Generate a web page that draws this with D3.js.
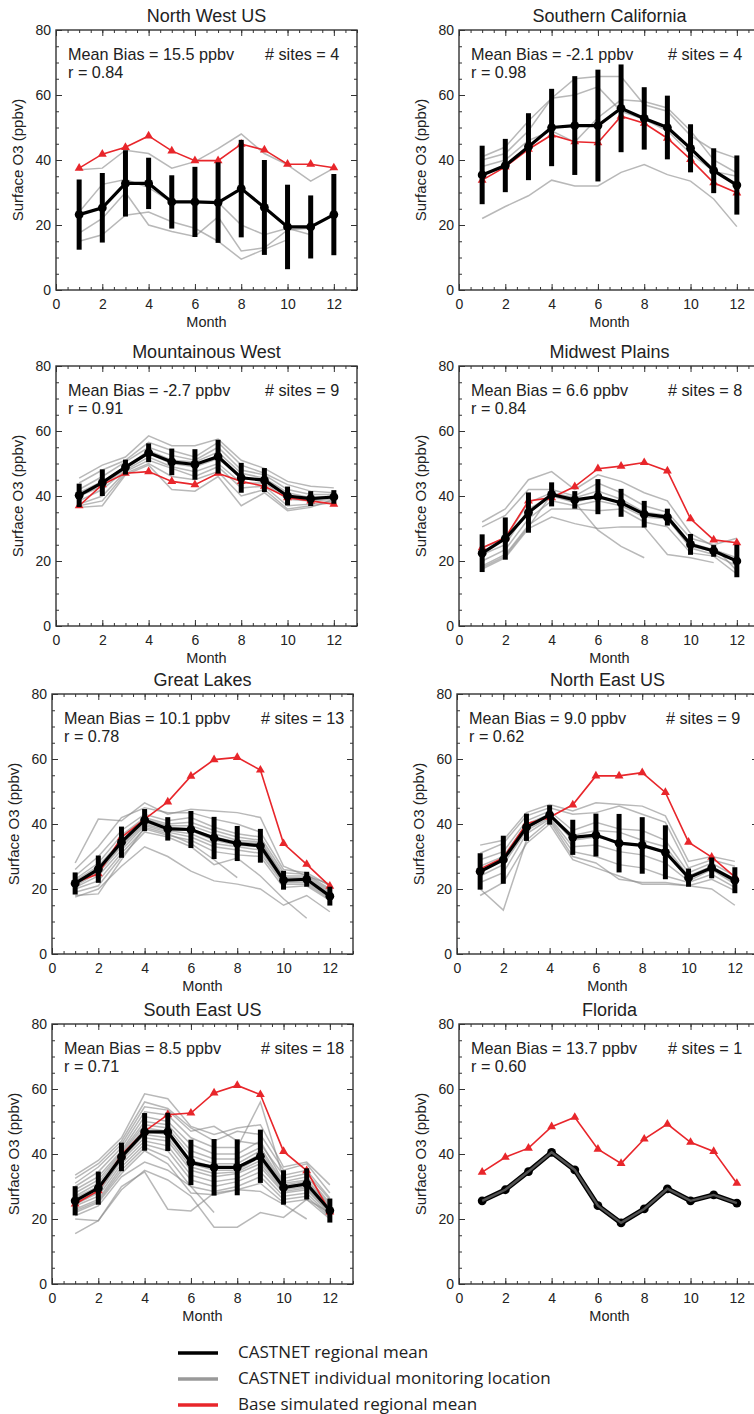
<!DOCTYPE html>
<meta charset="utf-8">
<title>Surface O3 by region</title>
<script src="https://d3js.org/d3.v7.min.js"></script>
<style>
body {
	margin: 0;
	background: #fff;
}
svg {
	display: block;
}
</style>
<body>
<script>
// Months on the x axis and tick labels
const months = [1, 2, 3, 4, 5, 6, 7, 8, 9, 10, 11, 12];
const xTicks = [0, 2, 4, 6, 8, 10, 12];
const yTicks = [0, 20, 40, 60, 80];

// North West US
const nwModel = [37.5, 41.8, 43.9, 47.4, 42.8, 39.8, 39.8, 44.9, 43.1, 38.7, 38.7, 37.6];
const nwMean = [23.2, 25.3, 32.8, 32.8, 27.1, 27.1, 26.9, 31.2, 25.4, 19.4, 19.4, 23.2];
const nwSd = [10.8, 10.7, 10.2, 7.9, 8.2, 10.8, 12.4, 15.0, 14.6, 13.0, 9.7, 12.5];
const nwSites = [
	[37, 37.5, 43, 42, 37.5, 39.5, 43.5, 48, 42, 38.5, 33.5, 37.5],
	[24, 32.5, 34, 31.5, 27, 27, 27, 20, 17, 19, 17, null],
	[17.5, 22, 30, 20, 18, 16.5, 22.5, 12, 13, 18.5, 19, null],
	[15, 17, 23, 24, 21, 19, 15, 9.5, 12.5, 15.5, null, null],
];

// Southern California
const scModel = [33.8, 37.9, 43.3, 47.7, 45.6, 45.3, 53.5, 51.3, 46.7, 40.2, 33.0, 29.9];
const scMean = [35.4, 38.3, 44.1, 50.0, 50.6, 50.6, 55.9, 52.8, 50.0, 43.6, 36.7, 32.3];
const scSd = [9.0, 8.2, 10.3, 11.9, 15.2, 17.2, 13.5, 9.6, 9.8, 7.4, 6.9, 9.1];
const scSites = [
	[41, 44, 52, 59, 65, 65.7, 65.7, 57, 55, 47.5, 43, 40.5],
	[40, 42, 49, 59, 60, 62.5, 55, 52.5, 49, 42, 36.5, 35],
	[38, 40, 46, 49, 45.5, 53, 58.5, 58, 56, 49, 40, 36],
	[22, 25.7, 29, 33.8, 32, 32, 36.2, 38.6, 35.5, 33.5, 28, 19.5],
];

// Mountainous West
const mwModel = [37, 43.5, 47, 47.5, 44.5, 43.5, 47, 44.5, 43, 39.5, 38.5, 37.5];
const mwMean = [40.2, 44.1, 48.9, 53.3, 50.5, 49.7, 52.1, 45.6, 44.9, 40.0, 39.2, 39.7];
const mwSd = [3.6, 4.1, 2.3, 2.9, 4.1, 4.7, 5.2, 4.6, 3.7, 2.9, 2.3, 2.1];
const mwSites = [
	[45.5, 49.5, 52, 58.5, 55.5, 55.5, 57.5, 51, 48.5, 44.5, 43, 42.5],
	[44, 48, 51, 56.5, 54, 52, 56.5, 49.5, 47, 43.5, 41.5, 41],
	[42, 46, 50.5, 55, 52.5, 51, 55, 48, 46.5, 42, 40.5, 40.5],
	[41, 44.5, 49, 54, 51, 50.5, 53.5, 47, 45.5, 41, 39.5, 40],
	[40, 43, 48.5, 53, 50, 49, 51.5, 45.5, 44.5, 40, 39, 39.5],
	[38.5, 42, 48, 52, 49, 47.5, 50, 44, 44, 39, 38.5, 39],
	[37.5, 40, 47.5, 51, 48.5, 46, 49, 42.5, 43, 37, 37.5, 38.5],
	[37, 38.5, 47, 50, 46, 45, 47.5, 40, 42, 36, 37, 38],
	[36.5, 37, 46.5, 49.5, 42, 41.5, 46, 37, 41, 35.5, 36.5, 39],
];

// Midwest Plains
const mpModel = [24.1, 27.2, 38.5, 39.5, 42.9, 48.4, 49.2, 50.3, 47.7, 33.0, 26.5, 25.6];
const mpMean = [22.4, 26.9, 34.9, 40.5, 38.8, 39.8, 37.9, 34.4, 33.5, 25.1, 23.1, 20.0];
const mpSd = [5.8, 6.5, 6.2, 3.7, 2.7, 5.4, 4.3, 4.1, 2.6, 3.2, 1.8, 5.0];
const mpSites = [
	[32, 36, 45, 47.5, 42, 46.5, 44.5, 41, 38.5, 28.5, 24.5, 17],
	[30.5, 34, 42, 42, 40, 44, 41, 37, 35, 27, 25, 27],
	[24, 27, 38, 41, 39.5, 41.5, 39, 35, 34, 25.5, 23.5, 21],
	[22, 25, 36, 40, 38, 40, 38, 34.5, 33, 24.5, 23, 20],
	[20, 23.5, 33, 38.5, 37, 38.5, 37, 33.5, 33, 24, 22, 18.5],
	[18.5, 22, 31, 36, 36, 35.5, 36, 32, 30.5, 22.5, 21.5, 16],
	[17.5, 21, 30, 33.5, 31.5, 30, 30.5, 30.5, 22, 21, 19.5, null],
	[18, 21.5, 30.5, 40.5, 38, 29.5, 24.5, 21, null, null, null, null],
];

// Great Lakes
const glModel = [22.0, 24.7, 35.9, 41.5, 46.8, 54.7, 59.8, 60.5, 56.6, 34.0, 27.6, 20.9];
const glMean = [21.7, 26.1, 34.4, 41.2, 38.5, 38.3, 35.7, 34.0, 33.3, 22.7, 23.0, 17.8];
const glSd = [3.4, 4.2, 4.8, 3.4, 3.6, 5.7, 6.5, 5.4, 5.2, 2.9, 2.3, 2.9];
const glSites = [
	[28, 41.5, 41, 46.5, 43, 44.5, 44, 43.5, 42, 27, 24, 21.5],
	[26, 33, 42, 45, 43.5, 43.5, 41.5, 40, 37.5, 26, 25, 21],
	[24, 30, 38, 43, 41, 42, 39, 37, 36, 25, 24.5, 20],
	[23, 28, 36.5, 42, 40, 40.5, 38, 36, 35, 24, 24, 19.5],
	[22.5, 27, 35, 41.5, 39.5, 39.5, 37, 35, 34.5, 23.5, 23.5, 19],
	[22, 26, 34, 41, 39, 38.5, 36, 34.5, 34, 23, 23, 18.5],
	[21.5, 25.5, 33.5, 40.5, 38.5, 38, 35, 33.5, 33, 22.5, 22.5, 18],
	[21, 25, 33, 40, 38, 37, 34, 33, 32, 22, 22, 17.5],
	[20.5, 24, 32, 39.5, 37.5, 36, 33, 32, 31, 21.5, 21.5, 17],
	[20, 22.5, 31, 38.5, 36.5, 35, 31.5, 30.5, 30, 20.5, 21, 16.5],
	[19, 21, 30, 37.5, 36, 33, 27.5, 29.5, 24, 17, 11, null],
	[18, 18.5, 29, 39, 37, 34, 29, 23.5, null, null, null, null],
	[17.5, 20, 27, 33, 30, 25.5, 22.5, 21.5, 20, 15, 18, 13],
];

// North East US
const neModel = [26.2, 29.6, 40.1, 42.1, 45.9, 54.8, 54.8, 55.8, 49.7, 34.4, 29.8, 23.7];
const neMean = [25.4, 29.0, 39.0, 42.8, 35.9, 36.6, 34.1, 33.4, 31.3, 23.5, 26.5, 22.7];
const neSd = [5.6, 7.4, 4.2, 3.0, 5.4, 6.6, 9.0, 8.7, 8.3, 2.8, 3.2, 4.0];
const neSites = [
	[33.5, 35, 43.5, 46, 44, 46.5, 46, 45.5, 42.5, 28.5, 30, 28.5],
	[31, 34, 42.5, 45, 43, 43.5, 45.5, 43, 40.5, 26.5, 29, 27],
	[29, 31.5, 41, 44, 38, 40.5, 38.5, 38, 35, 25, 28, 24],
	[27, 30, 40, 43, 36.5, 38, 37.5, 35, 33, 24, 27, 23],
	[25.5, 29, 39, 42.5, 35, 36, 34.5, 33.5, 31, 23.5, 26.5, 22],
	[24, 27.5, 38, 42, 33, 33.5, 31.5, 30.5, 28, 22.5, 26, 21.5],
	[22, 25, 37, 41.5, 31.5, 30, 27.5, 26.5, 24, 22, 24.5, 20.5],
	[20, 13.5, 35, 41, 30, 28, 23, 22, 22, 21, 23, 19.5],
	[18, 22, 34, 40, 29, 26.5, 24, 21.5, 21.5, 21, 20, 15],
];

// South East US
const seModel = [24.6, 28.7, 39.8, 47.0, 52.1, 52.6, 58.8, 61.1, 58.3, 40.8, 34.9, 22.2];
const seMean = [25.6, 29.5, 39.1, 46.8, 46.8, 37.4, 35.9, 35.9, 39.3, 29.7, 30.8, 22.6];
const seSd = [4.5, 5.1, 4.4, 5.8, 5.9, 7.0, 8.7, 8.6, 8.2, 5.3, 4.8, 3.7];
const seSites = [
	[33.5, 38, 45, 58.5, 57, 48.5, 46, 48, 49, 36, 37.5, 30.5],
	[32.5, 37, 44, 56, 54, 48, 44, 47, 46, 35, 37, 28],
	[31, 36, 43, 54.5, 53.5, 47, 48.5, 44, 43, 33.5, 35, 26.5],
	[30, 34.5, 42, 53, 52, 45, 42, 42, 56, 32.5, 34, 26],
	[29, 33, 41, 51.5, 50, 43, 40, 40, 44, 31.5, 33, 25],
	[28, 32, 40.5, 50, 49, 41, 38.5, 38.5, 42, 31, 32, 24.5],
	[27, 31, 40, 49, 48, 39.5, 37, 37, 41, 30.5, 31.5, 24],
	[26.5, 30, 39.5, 48, 47, 38, 36, 36, 40, 30, 31, 23.5],
	[26, 29.5, 39, 47, 46, 37, 35, 35, 39, 29.5, 30.5, 23],
	[25, 28.5, 38.5, 46, 45, 36, 34, 34.5, 38, 29, 30, 22.5],
	[24.5, 28, 38, 45, 44, 35, 33, 34, 37, 28.5, 29.5, 22],
	[24, 27, 37, 44, 42.5, 33.5, 31.5, 32.5, 36, 28, 29, 21.5],
	[23, 26, 36, 43, 41, 32, 30, 31.5, 34.5, 27, 28, 21],
	[22.5, 25.5, 35, 42, 39, 30, 28.5, 30, 33, 26, 27, 20.5],
	[22, 25, 34, 41, 37, 28, 27.5, 29, 31, 25, 26, 20],
	[21, 24, 33, 37.5, 35, 30, 22, null, null, null, null, null],
	[20, 19.5, 30, 34.5, 23, 22.5, 28, 29, 28.5, 24.5, 20, null],
	[15.5, 19.5, 29, 35, 32, 27, 17.5, 17.5, 22, 20.5, 26, 22],
];

// Florida
const flModel = [34.4, 39.0, 41.8, 48.4, 51.3, 41.5, 37.1, 44.6, 49.2, 43.6, 40.8, 31.0];
const flMean = [25.6, 29.0, 34.6, 40.5, 35.1, 24.1, 18.8, 23.1, 29.3, 25.6, 27.4, 24.9];
const flSd = [0, 0, 0, 0, 0, 0, 0, 0, 0, 0, 0, 0];
const flSites = [
	[25.6, 29.0, 34.6, 40.5, 35.1, 24.1, 18.8, 23.1, 29.3, 25.6, 27.4, 24.9],
];

const panels = [
	{ title: 'North West US', bias: '15.5', sites: 4, r: '0.84', model: nwModel, mean: nwMean, sd: nwSd, lines: nwSites },
	{ title: 'Southern California', bias: '-2.1', sites: 4, r: '0.98', model: scModel, mean: scMean, sd: scSd, lines: scSites },
	{ title: 'Mountainous West', bias: '-2.7', sites: 9, r: '0.91', model: mwModel, mean: mwMean, sd: mwSd, lines: mwSites },
	{ title: 'Midwest Plains', bias: '6.6', sites: 8, r: '0.84', model: mpModel, mean: mpMean, sd: mpSd, lines: mpSites },
	{ title: 'Great Lakes', bias: '10.1', sites: 13, r: '0.78', model: glModel, mean: glMean, sd: glSd, lines: glSites },
	{ title: 'North East US', bias: '9.0', sites: 9, r: '0.62', model: neModel, mean: neMean, sd: neSd, lines: neSites },
	{ title: 'South East US', bias: '8.5', sites: 18, r: '0.71', model: seModel, mean: seMean, sd: seSd, lines: seSites },
	{ title: 'Florida', bias: '13.7', sites: 1, r: '0.60', model: flModel, mean: flMean, sd: flSd, lines: flSites },
];

const legendLabels = [
	'CASTNET regional mean',
	'CASTNET individual monitoring location',
	'Base simulated regional mean',
];

// Layout
const width = 754;
const height = 1414;
const boxW = 301;
const boxH = 260;
const panelLeft = [[56, 459], [56, 459], [52, 457], [52, 459]];
const panelTop = [30, 366, 694, 1024];
const fontFamily = 'Liberation Sans, Arial, sans-serif';
const textColor = '#222';
const red = '#e8262b';
const gray = '#888';

const svg = d3.select('body')
	.append('svg')
		.attr('width', width)
		.attr('height', height)
		.attr('font-family', fontFamily);

svg.append('rect')
	.attr('width', width)
	.attr('height', height)
	.attr('fill', '#fff');

function drawPanel(p, left, top) {
	const x = d3.scaleLinear().domain([0, 13]).range([left, left + boxW]);
	const y = d3.scaleLinear().domain([0, 80]).range([top + boxH, top]);
	const g = svg.append('g');

	// Minor and major ticks pointing inward on all four sides
	const minorX = d3.range(0, 13.01, 0.5);
	const minorY = d3.range(0, 80.01, 5);
	const axes = [
		{ axis: d3.axisBottom(x), at: `translate(0, ${top + boxH})`, minor: minorX, major: xTicks, labels: true, pad: 9 },
		{ axis: d3.axisTop(x), at: `translate(0, ${top})`, minor: minorX, major: xTicks, labels: false, pad: 9 },
		{ axis: d3.axisLeft(y), at: `translate(${left}, 0)`, minor: minorY, major: yTicks, labels: true, pad: 5 },
		{ axis: d3.axisRight(y), at: `translate(${left + boxW}, 0)`, minor: minorY, major: yTicks, labels: false, pad: 5 },
	];
	axes.forEach(a => {
		const minor = g.append('g')
			.attr('transform', a.at)
			.call(a.axis.tickValues(a.minor).tickSize(-3).tickFormat(''));
		minor.select('.domain').remove();
		minor.selectAll('line').attr('stroke', '#333');
		const major = g.append('g')
			.attr('transform', a.at)
			.call(a.axis.tickValues(a.major).tickSize(-6).tickPadding(a.pad)
				.tickFormat(a.labels ? d3.format('d') : ''));
		major.select('.domain').remove();
		major.selectAll('line').attr('stroke', '#333');
		major.selectAll('text')
			.attr('font-family', fontFamily)
			.attr('font-size', 14)
			.attr('fill', textColor);
	});

	const line = d3.line()
		.defined(d => d != null)
		.x((d, i) => x(months[i]))
		.y(d => y(d));

	const drawSites = () => {
		g.selectAll('.site')
			.data(p.lines)
			.enter()
			.append('path')
				.attr('fill', 'none')
				.attr('stroke', gray)
				.attr('stroke-opacity', 0.6)
				.attr('stroke-width', p.lines.length === 1 ? 2.4 : 1.5)
				.attr('d', line);
	};

	// Individual sites sit under the mean, unless the mean is that one site
	if (p.lines.length > 1) {
		drawSites();
	}

	// Base simulated regional mean
	g.append('path')
		.datum(p.model)
		.attr('fill', 'none')
		.attr('stroke', red)
		.attr('stroke-width', 1.6)
		.attr('d', line);
	g.selectAll('.tri')
		.data(p.model)
		.enter()
		.append('path')
			.attr('transform', (d, i) => `translate(${x(months[i])}, ${y(d)})`)
			.attr('d', d3.symbol(d3.symbolTriangle, 34))
			.attr('fill', red);

	// CASTNET regional mean with error bars
	g.selectAll('.bar')
		.data(p.mean)
		.enter()
		.filter((d, i) => p.sd[i] > 0)
		.append('line')
			.attr('x1', (d, i) => x(months[i]))
			.attr('x2', (d, i) => x(months[i]))
			.attr('y1', (d, i) => y(d - p.sd[i]))
			.attr('y2', (d, i) => y(d + p.sd[i]))
			.attr('stroke', '#000')
			.attr('stroke-width', 5);
	g.append('path')
		.datum(p.mean)
		.attr('fill', 'none')
		.attr('stroke', '#000')
		.attr('stroke-width', p.lines.length === 1 ? 5 : 3.2)
		.attr('d', line);
	g.selectAll('.dot')
		.data(p.mean)
		.enter()
		.append('circle')
			.attr('cx', (d, i) => x(months[i]))
			.attr('cy', d => y(d))
			.attr('r', 4.4)
			.attr('fill', '#000');

	if (p.lines.length === 1) {
		drawSites();
	}

	// Box
	g.append('rect')
		.attr('x', left)
		.attr('y', top)
		.attr('width', boxW)
		.attr('height', boxH)
		.attr('fill', 'none')
		.attr('stroke', '#333')
		.attr('stroke-width', 1.4);

	// Texts
	const cx = left + boxW / 2;
	g.append('text')
		.attr('x', cx)
		.attr('y', top - 8)
		.attr('text-anchor', 'middle')
		.attr('font-size', 18)
		.attr('fill', textColor)
		.text(p.title);
	g.append('text')
		.attr('x', cx)
		.attr('y', top + boxH + 37)
		.attr('text-anchor', 'middle')
		.attr('font-size', 14.5)
		.attr('fill', textColor)
		.text('Month');
	g.append('text')
		.attr('transform', `translate(${left - 33}, ${top + boxH / 2}) rotate(-90)`)
		.attr('text-anchor', 'middle')
		.attr('font-size', 15)
		.attr('fill', textColor)
		.text('Surface O3 (ppbv)');
	g.append('text')
		.attr('x', left + 12)
		.attr('y', top + 30)
		.attr('font-size', 16.2)
		.attr('fill', textColor)
		.text(`Mean Bias = ${p.bias} ppbv`);
	g.append('text')
		.attr('x', left + 209)
		.attr('y', top + 30)
		.attr('font-size', 16.2)
		.attr('fill', textColor)
		.text(`# sites = ${p.sites}`);
	g.append('text')
		.attr('x', left + 12)
		.attr('y', top + 48)
		.attr('font-size', 16.2)
		.attr('fill', textColor)
		.text(`r = ${p.r}`);
}

panels.forEach((p, i) => {
	const row = Math.floor(i / 2);
	const col = i % 2;
	drawPanel(p, panelLeft[row][col], panelTop[row]);
});

// Legend
const legendColors = ['#000', '#999', red];
const legend = svg.append('g')
	.selectAll('g')
	.data(legendLabels)
	.enter()
	.append('g')
		.attr('transform', (d, i) => `translate(178, ${1353 + i * 26})`);
legend.append('line')
	.attr('x1', 0)
	.attr('x2', 40)
	.attr('stroke', (d, i) => legendColors[i])
	.attr('stroke-width', 3.5);
legend.append('text')
	.attr('x', 60)
	.attr('dy', '0.3em')
	.attr('font-family', 'Open Sans, sans-serif')
	.attr('font-size', 17)
	.attr('fill', textColor)
	.text(d => d);
</script>
</body>
